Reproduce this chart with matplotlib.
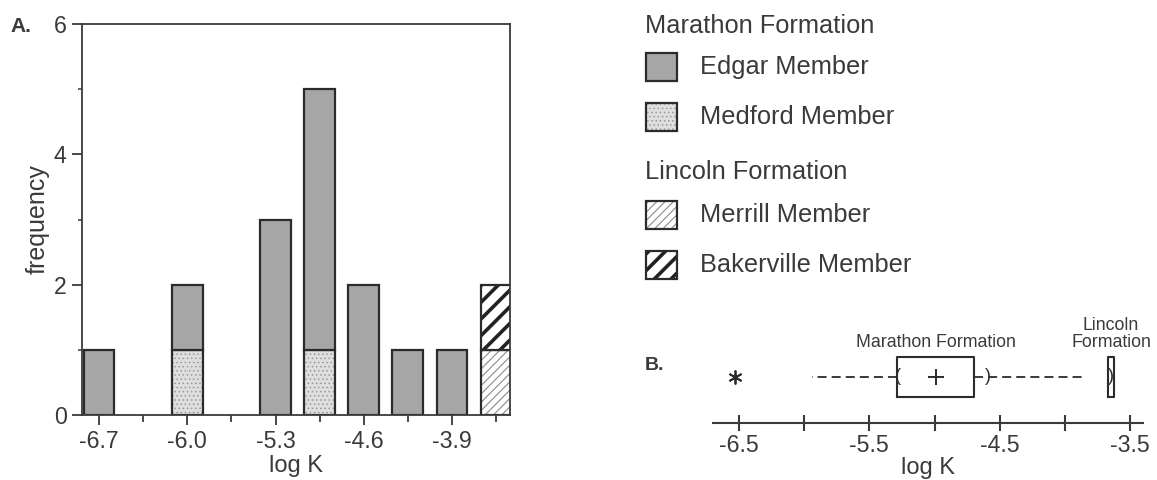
import matplotlib
matplotlib.use('Agg')
import matplotlib.pyplot as plt
from matplotlib.patches import Rectangle

plt.rcParams['font.family'] = ['Liberation Sans', 'DejaVu Sans']
plt.rcParams['axes.unicode_minus'] = False

# histogram of log K, 0.35-wide bins
bin_centers = [-6.7, -6.35, -6.0, -5.65, -5.3, -4.95, -4.6, -4.25, -3.9, -3.55]
edgar = [1, 0, 1, 0, 3, 4, 2, 1, 1, 0]
medford = [0, 0, 1, 0, 0, 1, 0, 0, 0, 0]
merrill = [0, 0, 0, 0, 0, 0, 0, 0, 0, 1]
bakerville = [0, 0, 0, 0, 0, 0, 0, 0, 0, 1]
xtick_labels = ['-6.7', '-6.0', '-5.3', '-4.6', '-3.9']

# box plot summaries
marathon_stats = dict(q1=-5.29, q3=-4.70, med=-5.0, mean=-4.99,
                      whislo=-5.94, whishi=-3.84, fliers=[-6.53])
marathon_ci = (-5.28, -4.59)
lincoln_stats = dict(q1=-3.67, q3=-3.62, med=-3.645, mean=-3.645,
                     whislo=-3.67, whishi=-3.62, fliers=[])
box_ticks = [-6.5, -6.0, -5.5, -5.0, -4.5, -4.0, -3.5]
box_labels = ['-6.5', '', '-5.5', '', '-4.5', '', '-3.5']

# member styles: face, hatch, hatch colour, hatch width
styles = {
    'Edgar Member': ('#a6a6a6', '', '#a6a6a6', 1.0),
    'Medford Member': ('#dedede', '....', '#9a9a9a', 0.6),
    'Merrill Member': ('white', '////', '#8a8a8a', 0.8),
    'Bakerville Member': ('white', '//', '#222222', 2.6),
}
EDGE = '#2b2b2b'
TXT = '#3a3a3a'

fig = plt.figure(figsize=(11.57, 4.8), dpi=100)


def hatched_bar(ax, x, h, bottom, style, width):
    face, hatch, hcol, hlw = style
    with plt.rc_context({'hatch.linewidth': hlw}):
        bars = ax.bar(x, h, width=width, bottom=bottom, color=face,
                      hatch=hatch, edgecolor=hcol, linewidth=0)
    for b in bars:
        if hasattr(b, 'set_hatch_linewidth'):
            b.set_hatch_linewidth(hlw)
    ax.bar(x, h, width=width, bottom=bottom, fill=False,
           edgecolor=EDGE, linewidth=1.6)


# ---- panel A
ax = fig.add_axes([82 / 1157, 1 - 415 / 480, 428 / 1157, 391 / 480])
bottom = [0] * len(bin_centers)
for name, vals in [('Medford Member', medford), ('Edgar Member', edgar),
                   ('Merrill Member', merrill), ('Bakerville Member', bakerville)]:
    xs = [x for x, v in zip(bin_centers, vals) if v]
    hs = [v for v in vals if v]
    bs = [b for b, v in zip(bottom, vals) if v]
    hatched_bar(ax, xs, hs, bs, styles[name], 0.245)
    bottom = [b + v for b, v in zip(bottom, vals)]

ax.set_xlim(-6.835, -3.44)
ax.set_ylim(0, 6)
ax.set_xticks(bin_centers[::2])
ax.set_xticklabels(xtick_labels)
ax.set_xticks(bin_centers[1::2], minor=True)
ax.set_yticks([0, 2, 4, 6])
ax.set_yticks([1, 3, 5], minor=True)
ax.tick_params(axis='both', which='major', labelsize=16.7, colors=TXT,
               width=1.3, length=7, pad=4)
ax.tick_params(axis='x', which='minor', width=1.3, length=5, colors=TXT)
ax.tick_params(axis='y', which='minor', width=1.1, length=3, colors=TXT)
for s in ax.spines.values():
    s.set_linewidth(1.3)
    s.set_color(TXT)
ax.set_xlabel('log K', fontsize=17, color=TXT, labelpad=1)
ax.set_ylabel('frequency', fontsize=18, color=TXT, labelpad=3)
fig.text(21 / 1157, 1 - 26 / 480, 'A.', fontsize=15, fontweight='bold',
         color=TXT, ha='center', va='center')

# ---- legend
lg = fig.add_axes([0, 0, 1, 1], zorder=-1)
lg.set_xlim(0, 1157)
lg.set_ylim(480, 0)
lg.axis('off')
lg.text(645, 26, 'Marathon Formation', fontsize=18.3, color=TXT, va='center')
lg.text(645, 172, 'Lincoln Formation', fontsize=18.3, color=TXT, va='center')
for name, yc in [('Edgar Member', 67), ('Medford Member', 117),
                 ('Merrill Member', 215), ('Bakerville Member', 265)]:
    face, hatch, hcol, hlw = styles[name]
    with plt.rc_context({'hatch.linewidth': hlw}):
        r = Rectangle((646, yc - 14), 31, 28, facecolor=face, hatch=hatch,
                      edgecolor=hcol, linewidth=0)
    if hasattr(r, 'set_hatch_linewidth'):
        r.set_hatch_linewidth(hlw)
    lg.add_patch(r)
    lg.add_patch(Rectangle((646, yc - 14), 31, 28, fill=False,
                           edgecolor=EDGE, linewidth=1.6))
    lg.text(700, yc, name, fontsize=18.3, color=TXT, va='center')

# ---- panel B
bx = fig.add_axes([713 / 1157, 1 - 423 / 480, 430 / 1157, 103 / 480])
box_kw = dict(positions=[0.447], widths=[0.388], showcaps=False,
              patch_artist=False,
              boxprops=dict(color=EDGE, linewidth=1.5),
              whiskerprops=dict(color=EDGE, linewidth=1.3, linestyle=(0, (5, 2.8))),
              medianprops=dict(linewidth=0),
              meanprops=dict(marker='+', markersize=11, markeredgewidth=1.4,
                             markeredgecolor=EDGE),
              flierprops=dict(marker=(6, 2, 0), markersize=10, markeredgewidth=1.3,
                              markeredgecolor=EDGE))
for stats, show_mean in ((marathon_stats, True), (lincoln_stats, False)):
    try:
        bx.bxp([stats], orientation='horizontal', showmeans=show_mean, **box_kw)
    except TypeError:
        bx.bxp([stats], vert=False, showmeans=show_mean, **box_kw)
bx.text(marathon_ci[0], 0.447, '(', fontsize=13, color=EDGE, ha='center', va='center')
bx.text(marathon_ci[1], 0.447, ')', fontsize=13, color=EDGE, ha='center', va='center')
bx.text(lincoln_stats['mean'], 0.447, ')', fontsize=13, color=EDGE, ha='center', va='center')
bx.text(marathon_stats['mean'], 0.70, 'Marathon Formation', fontsize=12.8,
        color=TXT, ha='center', va='bottom')
bx.text(lincoln_stats['mean'], 0.70, 'Lincoln\nFormation', fontsize=12.8,
        color=TXT, ha='center', va='bottom', linespacing=1.0)
bx.set_xlim(-6.70, -3.40)
bx.set_ylim(0, 1)
bx.set_xticks(box_ticks)
bx.set_xticklabels(box_labels)
bx.set_yticks([])
for k in ('top', 'right', 'left'):
    bx.spines[k].set_visible(False)
bx.spines['bottom'].set_linewidth(1.5)
bx.spines['bottom'].set_color(TXT)
bx.tick_params(axis='x', direction='inout', length=12, width=1.5,
               labelsize=16.7, colors=TXT, pad=2)
bx.set_xlabel('log K', fontsize=17, color=TXT, labelpad=0)
fig.text(654 / 1157, 1 - 366 / 480, 'B.', fontsize=14, fontweight='bold',
         color=TXT, ha='center', va='center')

fig.savefig('out.png', dpi=100, facecolor='white')
